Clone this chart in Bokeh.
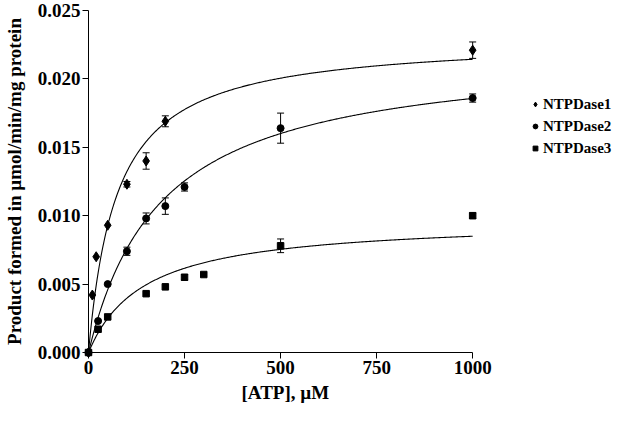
import numpy as np
from bokeh.plotting import figure
from bokeh.models import (Range1d, FixedTicker, NumeralTickFormatter, Whisker, TeeHead,
                          ColumnDataSource, Legend, LegendItem, Title)
from bokeh.embed import file_html
from bokeh.resources import INLINE

# ---- data ----
x1 = [0, 10, 20, 50, 100, 150, 200, 1000]
y1 = [0.0, 0.0042, 0.0070, 0.0093, 0.0123, 0.0140, 0.0169, 0.0221]
e1 = [0.0, 0.0, 0.0, 0.0, 0.0002, 0.0006, 0.0004, 0.0006]

x2 = [0, 25, 50, 100, 150, 200, 250, 500, 1000]
y2 = [0.0, 0.0023, 0.0050, 0.0074, 0.0098, 0.0107, 0.0121, 0.0164, 0.0186]
e2 = [0.0, 0.0, 0.0, 0.0003, 0.0004, 0.0006, 0.0003, 0.0011, 0.0003]

x3 = [0, 25, 50, 150, 200, 250, 300, 500, 1000]
y3 = [0.0, 0.0017, 0.0026, 0.0043, 0.0048, 0.0055, 0.0057, 0.0078, 0.0100]
e3 = [0.0, 0.0, 0.0, 0.0, 0.0, 0.0002, 0.0, 0.0005, 0.0002]

# Michaelis-Menten fit parameters (Vmax, Km) estimated from the drawn curves
fit1 = (0.02302, 74.0)
fit2 = (0.02212, 191.0)
fit3 = (0.00973, 145.0)

labels = ["NTPDase1", "NTPDase2", "NTPDase3"]
x_ticks = [0, 250, 500, 750, 1000]
y_ticks = [0.000, 0.005, 0.010, 0.015, 0.020, 0.025]
x_max = 1000

FONT = "Liberation Serif"

# frame extends to the right so the legend sits inside it; the x axis is bounded to 0..1000
p = figure(width=617, height=405, output_backend="svg", toolbar_location=None,
           x_range=Range1d(0, 1377), y_range=Range1d(0, 0.025),
           min_border_left=79, min_border_right=0, min_border_top=10, min_border_bottom=40)
p.outline_line_color = None
p.xgrid.visible = False
p.ygrid.visible = False
p.background_fill_color = "white"
p.border_fill_color = "white"

for ax in (p.xaxis[0], p.yaxis[0]):
    ax.axis_line_color = "black"
    ax.major_tick_line_color = "black"
    ax.minor_tick_line_color = None
    ax.major_tick_out = 6
    ax.major_tick_in = 0
    ax.major_label_text_font = FONT
    ax.major_label_text_font_style = "bold"
    ax.major_label_text_font_size = "19px"
    ax.major_label_text_color = "black"
    ax.axis_label_text_font = FONT
    ax.axis_label_text_font_style = "bold"
    ax.axis_label_text_font_size = "19px"
    ax.axis_label_text_color = "black"

p.xaxis.bounds = (0, x_max)
p.xaxis.ticker = FixedTicker(ticks=x_ticks)
p.yaxis.ticker = FixedTicker(ticks=y_ticks)
p.yaxis.formatter = NumeralTickFormatter(format="0.000")
p.xaxis.major_label_standoff = 2
p.yaxis.major_label_standoff = 2
p.yaxis.axis_label = "Product formed in \u00b5mol/min/mg protein"
p.yaxis.axis_label_standoff = 10

xlab = Title(text="[ATP], \u00b5M", align="left", offset=153, standoff=6,
             text_font=FONT, text_font_style="bold", text_font_size="19px", text_color="black")
p.add_layout(xlab, "below")

xs = np.linspace(0, x_max, 400)
for (vmax, km) in (fit1, fit2, fit3):
    p.line(xs, vmax * xs / (km + xs), line_color="black", line_width=1.1)

markers = [("diamond", 10, 0.0), ("circle", 7, 0.0), ("square", 6.5, 0.0)]
items = []
for (xv, yv, ev, lab, (mk, sz, ang)) in zip((x1, x2, x3), (y1, y2, y3), (e1, e2, e3), labels, markers):
    xe = [a for a, e in zip(xv, ev) if e > 0]
    ye = [b for b, e in zip(yv, ev) if e > 0]
    ee = [e for e in ev if e > 0]
    src = ColumnDataSource(dict(x=xe, lo=[b - e for b, e in zip(ye, ee)], hi=[b + e for b, e in zip(ye, ee)]))
    w = Whisker(source=src, base="x", lower="lo", upper="hi", level="overlay",
                line_color="black", line_width=1,
                upper_head=TeeHead(size=7, line_color="black", line_width=1),
                lower_head=TeeHead(size=7, line_color="black", line_width=1))
    p.add_layout(w)
    r = p.scatter(xv, yv, marker=mk, size=sz, angle=ang, fill_color="black", line_color="black", level="overlay")
    items.append(LegendItem(label=lab, renderers=[r], index=0))

leg = Legend(items=items, location=(441, 194), padding=0, margin=0, spacing=2,
             glyph_width=12, glyph_height=12, label_height=20, label_standoff=2,
             border_line_color=None, background_fill_alpha=0,
             label_text_font=FONT, label_text_font_style="bold", label_text_font_size="15px",
             label_text_color="black")
p.add_layout(leg, "center")

open("out.html", "w").write(file_html(p, INLINE))
